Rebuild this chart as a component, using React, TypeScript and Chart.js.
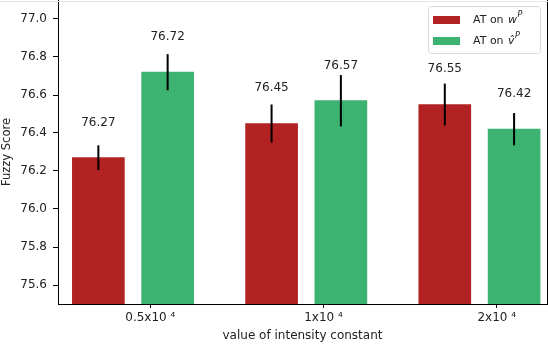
import React, { useEffect, useRef } from "react";
import { Chart, registerables } from "chart.js";

Chart.register(...registerables);

const categories = ["0.5x10 \u2074", "1x10 \u2074", "2x10 \u2074"];
const seriesW = [76.27, 76.45, 76.55];
const seriesV = [76.72, 76.57, 76.42];
const errW = [0.065, 0.1, 0.11];
const errV = [0.095, 0.135, 0.085];
const yTicks = [75.6, 75.8, 76.0, 76.2, 76.4, 76.6, 76.8, 77.0];
const seriesNames = ["w", "v\u0302"];

const RED = "#B22222";
const GREEN = "#3CB371";
const FONT = "DejaVu Sans";

const overlayPlugin = {
  id: "overlay",
  afterDatasetsDraw(chart: any) {
    const ctx = chart.ctx;
    const y = chart.scales.y;
    const area = chart.chartArea;
    const errs = [errW, errV];
    const vals = [seriesW, seriesV];
    ctx.save();
    [0, 1].forEach((d) => {
      const meta = chart.getDatasetMeta(d);
      meta.data.forEach((bar: any, i: number) => {
        const v = vals[d][i];
        const e = errs[d][i];
        ctx.strokeStyle = "#000";
        ctx.lineWidth = 2;
        ctx.beginPath();
        ctx.moveTo(bar.x, y.getPixelForValue(v - e));
        ctx.lineTo(bar.x, y.getPixelForValue(v + e));
        ctx.stroke();
        ctx.fillStyle = "#222";
        ctx.font = `12px "${FONT}"`;
        ctx.textAlign = "center";
        ctx.textBaseline = "middle";
        ctx.fillText(v.toFixed(2), bar.x, y.getPixelForValue(v + 0.185));
      });
    });
    ctx.strokeStyle = "#000";
    ctx.lineWidth = 1;
    ctx.beginPath();
    ctx.moveTo(area.right + 0.5, area.top);
    ctx.lineTo(area.right + 0.5, area.bottom);
    ctx.stroke();
    ctx.strokeStyle = "#e6e6e6";
    ctx.beginPath();
    ctx.moveTo(0, 1.5);
    ctx.lineTo(chart.width, 1.5);
    ctx.stroke();
    const bw = 112;
    const bh = 47;
    const bx = area.right - 7 - bw;
    const by = area.top + 6;
    ctx.fillStyle = "rgba(255,255,255,0.85)";
    ctx.strokeStyle = "#d8d8d8";
    ctx.lineWidth = 1;
    ctx.beginPath();
    (ctx as any).roundRect(bx + 0.5, by + 0.5, bw, bh, 3);
    ctx.fill();
    ctx.stroke();
    const colors = [RED, GREEN];
    [0, 1].forEach((d) => {
      const cy = by + 14 + d * 21;
      ctx.fillStyle = colors[d];
      ctx.fillRect(bx + 5, cy - 4, 27, 8);
      ctx.fillStyle = "#222";
      ctx.textAlign = "left";
      ctx.textBaseline = "middle";
      ctx.font = `11px "${FONT}"`;
      const tx = bx + 45;
      const base = "AT on ";
      ctx.fillText(base, tx, cy);
      const w1 = ctx.measureText(base).width;
      ctx.font = `italic 11px "${FONT}"`;
      ctx.fillText(seriesNames[d], tx + w1 + 1, cy);
      const w2 = ctx.measureText(seriesNames[d]).width;
      ctx.font = `italic 8px "${FONT}"`;
      ctx.fillText("P", tx + w1 + w2 + 1.5, cy - 5);
    });
    ctx.restore();
  },
};

export default function App() {
  const ref = useRef<HTMLCanvasElement>(null);
  useEffect(() => {
    document.body.style.margin = "0";
    const canvas = ref.current!;
    const tickFont = { family: FONT, size: 12 };
    const chart = new Chart(canvas, {
      type: "bar",
      data: {
        datasets: [
          {
            label: "AT on w^P",
            data: seriesW.map((v, i) => ({ x: i - 0.2, y: v })),
            backgroundColor: RED,
            barThickness: 52,
            grouped: false,
          } as any,
          {
            label: "AT on v^P",
            data: seriesV.map((v, i) => ({ x: i + 0.2, y: v })),
            backgroundColor: GREEN,
            barThickness: 52,
            grouped: false,
          } as any,
        ],
      },
      options: {
        responsive: false,
        animation: false,
        devicePixelRatio: 1,
        layout: { padding: { left: 0, right: 1, top: 0, bottom: 0 } },
        plugins: {
          legend: { display: false },
          tooltip: { enabled: false },
        },
        scales: {
          x: {
            type: "linear",
            offset: false,
            min: -0.433,
            max: 2.39,
            afterBuildTicks: (s: any) => {
              s.ticks = categories.map((_, i) => ({ value: i + 0.1 }));
            },
            afterFit: (s: any) => {
              s.height = 40;
              s.paddingLeft = 0;
              s.paddingRight = 0;
            },
            ticks: {
              autoSkip: false,
              maxRotation: 0,
              padding: 3,
              color: "#222",
              font: tickFont,
              callback: (_v: any, idx: number) => categories[idx],
            },
            grid: {
              offset: false,
              drawOnChartArea: false,
              drawTicks: true,
              tickLength: 4,
              color: "#000",
            },
            border: { display: true, color: "#000", width: 1 },
            title: {
              display: true,
              text: "value of intensity constant",
              color: "#222",
              font: tickFont,
              padding: { top: 0, bottom: 1 },
            },
          },
          y: {
            type: "linear",
            min: 75.5,
            max: 77.1,
            afterBuildTicks: (s: any) => {
              s.ticks = yTicks.map((v) => ({ value: v }));
            },
            afterFit: (s: any) => {
              s.width = 58;
              s.paddingTop = 0;
              s.paddingBottom = 0;
            },
            ticks: {
              padding: 6,
              color: "#222",
              font: tickFont,
              callback: (v: any) => Number(v).toFixed(1),
            },
            grid: {
              drawOnChartArea: false,
              drawTicks: true,
              tickLength: 5,
              color: "#000",
            },
            border: { display: true, color: "#000", width: 1 },
            title: {
              display: true,
              text: "Fuzzy Score",
              color: "#222",
              font: { family: FONT, size: 11.5 },
              padding: { top: 0, bottom: 0 },
            },
          },
        },
      },
      plugins: [overlayPlugin],
    });
    return () => chart.destroy();
  }, []);
  return (
    <div style={{ position: "absolute", left: 0, top: 0, width: 548, height: 344 }}>
      <canvas ref={ref} width={548} height={344} />
    </div>
  );
}
